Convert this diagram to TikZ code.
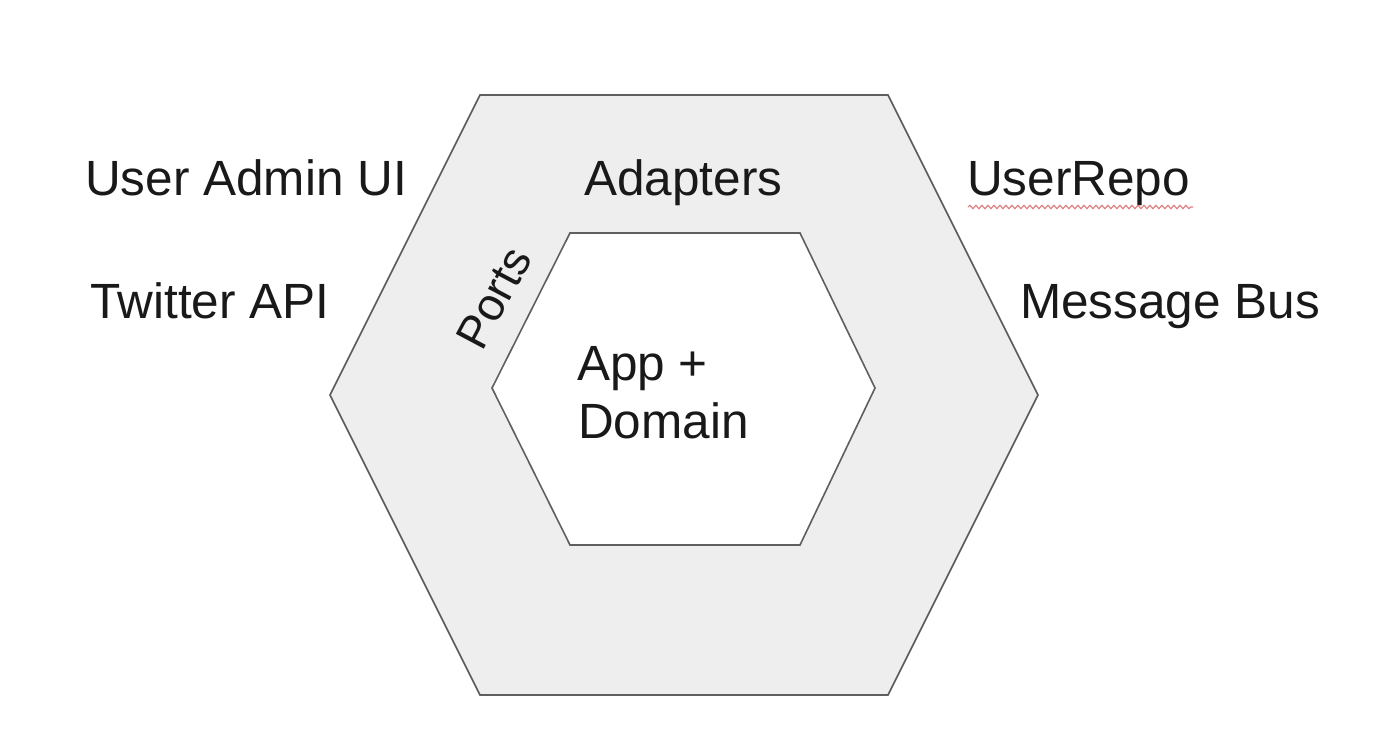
\documentclass[tikz,border=0pt]{standalone}
\usepackage{fontspec}
\setmainfont{Liberation Sans}
\usetikzlibrary{decorations.pathmorphing}
\definecolor{hexfill}{HTML}{EEEEEE}
\definecolor{hexline}{HTML}{5F5F5F}
\definecolor{spellred}{HTML}{E08080}
\begin{document}
\begin{tikzpicture}[x=1pt,y=-1pt,
  lbl/.style={anchor=base west,inner sep=0pt,font=\fontsize{49.5}{58}\selectfont,text=black!90},
  hexa/.style={draw=hexline,line width=1.6pt,line join=miter}]
\useasboundingbox (0,0) rectangle (1388,752);
\fill[white] (0,0) rectangle (1388,752);
% outer hexagon
\draw[hexa,fill=hexfill] (480,95) -- (888,95) -- (1038,395) -- (888,695) -- (480,695) -- (330,395) -- cycle;
% inner hexagon
\draw[hexa,fill=white] (570,233) -- (800,233) -- (875,388) -- (800,545) -- (570,545) -- (492,388) -- cycle;
\node[lbl] (ui) at (85,195) {User Admin UI};
\node[lbl] (tw) at (90,318) {Twitter API};
\node[lbl] (ad) at (584,195) {Adapters};
\node[lbl] (ur) at (967,195) {UserRepo};
\node[lbl] (mb) at (1020,318) {Message Bus};
\node[lbl] (app) at (577,380) {App +};
\node[lbl] (dom) at (578,438) {Domain};
\node[inner sep=0pt,font=\fontsize{46}{54}\selectfont,text=black!90,rotate=62] (ports) at (494,298) {Ports};
\draw[spellred,line width=1.2pt,decorate,decoration={snake,amplitude=1.6pt,segment length=6pt}] (968,207) -- (1193,207);
\end{tikzpicture}
\end{document}
